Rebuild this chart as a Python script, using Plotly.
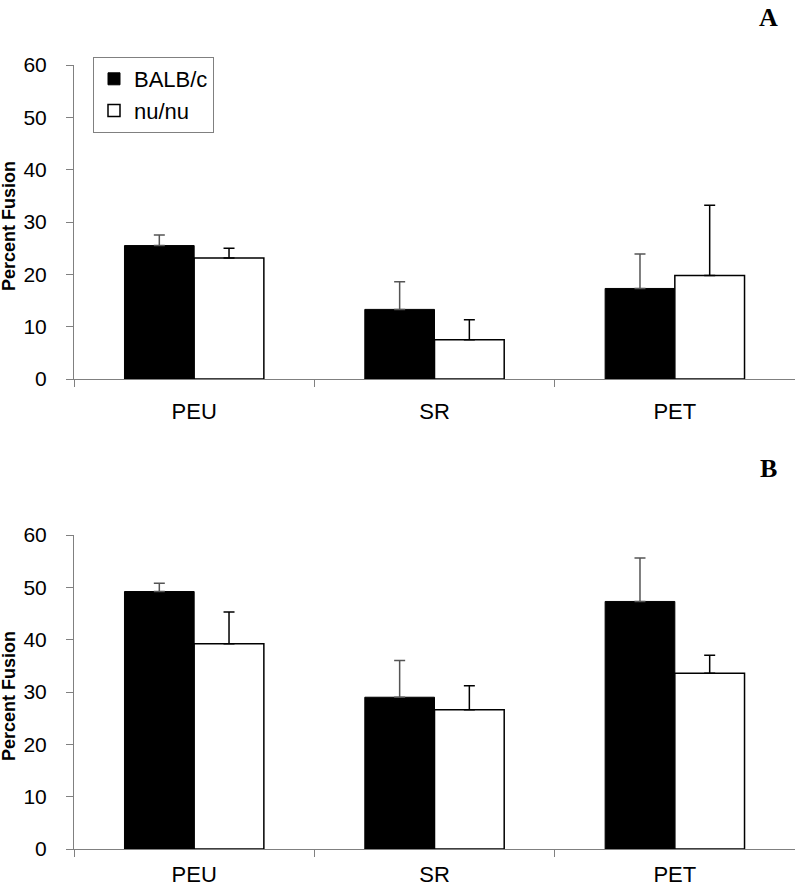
import plotly.graph_objects as go

categories = ["PEU", "SR", "PET"]
series_names = ["BALB/c", "nu/nu"]

# Panel A
a_balb = [25.5, 13.3, 17.3]
a_balb_err = [2.0, 5.3, 6.6]
a_nunu = [23.1, 7.5, 19.8]
a_nunu_err = [1.9, 3.8, 13.4]

# Panel B
b_balb = [49.2, 29.0, 47.3]
b_balb_err = [1.6, 7.0, 8.3]
b_nunu = [39.2, 26.6, 33.6]
b_nunu_err = [6.1, 4.6, 3.4]

y_ticks = [0, 10, 20, 30, 40, 50, 60]

W, H = 795, 890
FONT = "Liberation Sans, Arial, sans-serif"

def px_x(x):
    return x / W

def px_y(y):
    return 1 - y / H

fig = go.Figure()

def add_panel(balb, balb_err, nunu, nunu_err, xa, ya, show):
    fig.add_trace(go.Bar(
        x=categories, y=balb, name=series_names[0],
        marker=dict(color="black", line=dict(color="black", width=1)),
        error_y=dict(type="data", symmetric=False, array=balb_err,
                     arrayminus=[0]*len(balb_err), color="#555555",
                     thickness=1.5, width=5.5),
        xaxis=xa, yaxis=ya, showlegend=show, legendgroup="balb"))
    fig.add_trace(go.Bar(
        x=categories, y=nunu, name=series_names[1],
        marker=dict(color="white", line=dict(color="black", width=1.5)),
        error_y=dict(type="data", symmetric=False, array=nunu_err,
                     arrayminus=[0]*len(nunu_err), color="black",
                     thickness=1.5, width=5.5),
        xaxis=xa, yaxis=ya, showlegend=show, legendgroup="nunu"))

add_panel(a_balb, a_balb_err, a_nunu, a_nunu_err, "x", "y", True)
add_panel(b_balb, b_balb_err, b_nunu, b_nunu_err, "x2", "y2", False)

def ydom(top_px, bot_px):
    return [px_y(bot_px), px_y(top_px)]

xaxis_common = dict(
    domain=[px_x(74), 1.0], showline=True, linecolor="#808080", linewidth=1,
    ticks="outside", tickson="boundaries", ticklen=7, tickcolor="#808080",
    showgrid=False, zeroline=False, automargin=False,
    tickfont=dict(family=FONT, size=22, color="black"))
yaxis_common = dict(
    range=[0, 60], tickvals=y_ticks, showline=True, linecolor="#808080",
    linewidth=1, ticks="outside", ticklen=7, tickcolor="#808080",
    showgrid=False, zeroline=False, ticklabelstandoff=15, automargin=False,
    tickfont=dict(family=FONT, size=21, color="black"))

fig.update_layout(
    width=W, height=H,
    margin=dict(l=0, r=0, t=0, b=0, autoexpand=False),
    paper_bgcolor="white", plot_bgcolor="white",
    barmode="group", bargap=0.42, bargroupgap=0,
    xaxis=dict(xaxis_common, anchor="y", ticklabelstandoff=13),
    yaxis=dict(yaxis_common, domain=ydom(65, 379), anchor="x"),
    xaxis2=dict(xaxis_common, anchor="y2", ticklabelstandoff=6),
    yaxis2=dict(yaxis_common, domain=ydom(535, 849), anchor="x2"),
    legend=dict(x=px_x(93), y=px_y(57), xanchor="left", yanchor="top",
                bordercolor="#808080", borderwidth=1, bgcolor="white",
                font=dict(family=FONT, size=22, color="black"),
                tracegroupgap=0, itemwidth=30),
    showlegend=True,
)

annotations = []
for top, bot in [(65, 379), (535, 849)]:
    annotations.append(dict(
        text="<b>Percent Fusion</b>", textangle=-90, showarrow=False,
        xref="paper", yref="paper", x=px_x(9), y=px_y((top + bot) / 2 + 4),
        xanchor="center", yanchor="middle",
        font=dict(family=FONT, size=18, color="black")))
for letter, ypx in [("A", 18), ("B", 468)]:
    annotations.append(dict(
        text="<b>" + letter + "</b>", showarrow=False, xref="paper", yref="paper",
        x=px_x(768), y=px_y(ypx), xanchor="center", yanchor="middle",
        font=dict(family="Liberation Serif, Times New Roman, serif", size=26,
                  color="black")))
fig.update_layout(annotations=annotations)

fig.write_html("out.html", config={"displayModeBar": False},
               post_script="document.body.style.margin='0';document.body.style.padding='0';")
